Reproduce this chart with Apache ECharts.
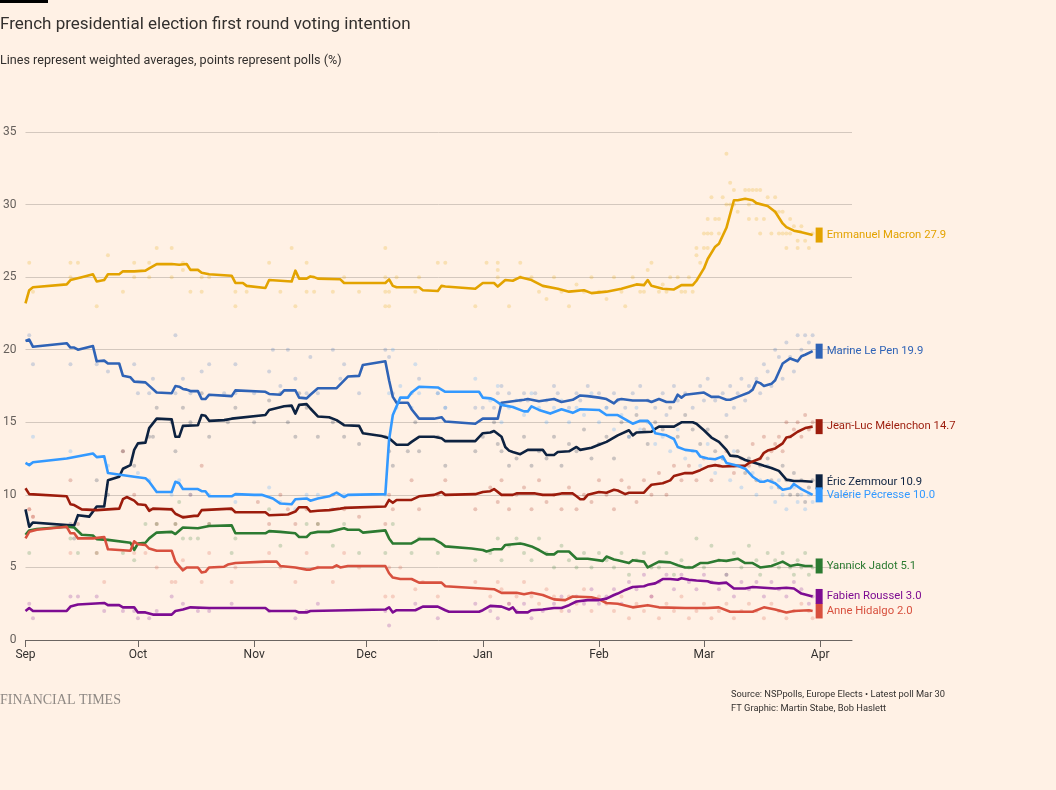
<!DOCTYPE html>
<html><head><meta charset="utf-8">
<script src="https://cdn.jsdelivr.net/npm/echarts@6/dist/echarts.min.js"></script>
<style>html,body{margin:0;padding:0;background:#fff1e5}#c{width:1056px;height:790px}</style>
</head><body><div id="c"></div><script>
// ---------- DATA ----------
const monthNames = ['Jan','Feb','Mar','Apr','May','Jun','Jul','Aug','Sep','Oct','Nov','Dec'];
const yTicks = [0, 5, 10, 15, 20, 25, 30, 35];

const candidates = ['Emmanuel Macron','Marine Le Pen','Éric Zemmour','Valérie Pécresse','Jean-Luc Mélenchon','Yannick Jadot','Anne Hidalgo','Fabien Roussel'];

const macronLine = [['2021-09-01',23.2],['2021-09-02',24.1],['2021-09-03',24.3],['2021-09-12',24.5],['2021-09-13',24.8],['2021-09-16',25.0],['2021-09-19',25.2],['2021-09-20',24.7],['2021-09-22',24.8],['2021-09-23',25.2],['2021-09-26',25.2],['2021-09-27',25.4],['2021-09-30',25.4],['2021-10-03',25.45],['2021-10-04',25.6],['2021-10-06',25.9],['2021-10-10',25.9],['2021-10-12',25.85],['2021-10-14',25.9],['2021-10-15',25.5],['2021-10-17',25.5],['2021-10-18',25.3],['2021-10-20',25.2],['2021-10-26',25.1],['2021-10-27',24.6],['2021-10-29',24.6],['2021-10-30',24.4],['2021-11-04',24.25],['2021-11-05',24.8],['2021-11-11',24.7],['2021-11-12',25.45],['2021-11-13',24.9],['2021-11-15',24.9],['2021-11-16',25.05],['2021-11-17',25.0],['2021-11-18',24.9],['2021-11-24',24.85],['2021-11-25',24.6],['2021-12-06',24.6],['2021-12-07',24.85],['2021-12-08',24.4],['2021-12-09',24.3],['2021-12-15',24.3],['2021-12-16',24.1],['2021-12-20',24.05],['2021-12-21',24.4],['2021-12-22',24.35],['2021-12-30',24.2],['2022-01-01',24.6],['2022-01-04',24.6],['2022-01-05',24.35],['2022-01-07',24.8],['2022-01-09',24.75],['2022-01-11',25.0],['2022-01-14',24.8],['2022-01-17',24.4],['2022-01-21',24.2],['2022-01-24',24.0],['2022-01-28',24.1],['2022-01-30',23.9],['2022-02-03',24.0],['2022-02-07',24.2],['2022-02-11',24.5],['2022-02-13',24.45],['2022-02-14',24.8],['2022-02-15',24.4],['2022-02-18',24.2],['2022-02-21',24.15],['2022-02-23',24.45],['2022-02-26',24.45],['2022-02-27',24.75],['2022-03-01',25.6],['2022-03-02',26.25],['2022-03-04',27.1],['2022-03-05',27.3],['2022-03-07',28.4],['2022-03-09',30.3],['2022-03-10',30.3],['2022-03-12',30.4],['2022-03-14',30.3],['2022-03-15',30.1],['2022-03-18',29.9],['2022-03-20',29.5],['2022-03-22',28.7],['2022-03-23',28.45],['2022-03-25',28.2],['2022-03-27',28.1],['2022-03-30',27.9]];

const lepenLine = [['2021-09-01',20.6],['2021-09-02',20.7],['2021-09-03',20.2],['2021-09-12',20.45],['2021-09-13',20.15],['2021-09-14',20.15],['2021-09-15',20.0],['2021-09-19',20.25],['2021-09-20',19.2],['2021-09-22',19.25],['2021-09-23',19.05],['2021-09-26',19.05],['2021-09-27',18.2],['2021-09-29',18.1],['2021-09-30',17.8],['2021-10-03',17.75],['2021-10-06',17.05],['2021-10-10',17.0],['2021-10-11',17.5],['2021-10-12',17.45],['2021-10-13',17.3],['2021-10-14',17.25],['2021-10-15',17.15],['2021-10-17',17.15],['2021-10-18',16.6],['2021-10-19',16.6],['2021-10-20',16.9],['2021-10-26',16.8],['2021-10-27',17.2],['2021-11-04',17.1],['2021-11-05',16.95],['2021-11-08',16.9],['2021-11-09',17.2],['2021-11-12',17.2],['2021-11-13',16.7],['2021-11-15',16.65],['2021-11-16',16.9],['2021-11-18',17.35],['2021-11-23',17.35],['2021-11-26',18.15],['2021-11-29',18.2],['2021-11-30',18.95],['2021-12-06',19.2],['2021-12-07',17.9],['2021-12-08',16.75],['2021-12-09',16.35],['2021-12-12',16.35],['2021-12-13',15.9],['2021-12-15',15.25],['2021-12-19',15.25],['2021-12-21',15.35],['2021-12-22',15.05],['2021-12-30',14.9],['2022-01-01',15.25],['2022-01-05',15.25],['2022-01-06',16.35],['2022-01-12',16.55],['2022-01-13',16.6],['2022-01-16',16.45],['2022-01-20',16.6],['2022-01-22',16.4],['2022-01-25',16.55],['2022-01-27',16.85],['2022-01-29',16.8],['2022-02-01',16.7],['2022-02-03',16.6],['2022-02-05',16.3],['2022-02-06',16.55],['2022-02-07',16.6],['2022-02-10',16.5],['2022-02-14',16.5],['2022-02-15',16.4],['2022-02-17',16.6],['2022-02-19',16.4],['2022-02-21',16.4],['2022-02-22',16.9],['2022-02-23',16.7],['2022-02-24',16.9],['2022-03-01',17.05],['2022-03-03',16.75],['2022-03-05',16.75],['2022-03-07',16.55],['2022-03-08',16.55],['2022-03-10',16.75],['2022-03-13',17.05],['2022-03-14',17.25],['2022-03-15',17.8],['2022-03-16',17.7],['2022-03-17',17.5],['2022-03-19',17.65],['2022-03-20',17.9],['2022-03-22',19.05],['2022-03-24',19.4],['2022-03-26',19.2],['2022-03-27',19.55],['2022-03-28',19.65],['2022-03-30',19.9]];

const zemmourLine = [['2021-09-01',9.0],['2021-09-02',7.8],['2021-09-03',8.1],['2021-09-13',7.9],['2021-09-14',7.9],['2021-09-15',8.6],['2021-09-18',8.5],['2021-09-20',9.2],['2021-09-22',9.2],['2021-09-23',11.0],['2021-09-26',11.25],['2021-09-27',11.8],['2021-09-29',12.05],['2021-09-30',13.1],['2021-10-01',13.55],['2021-10-03',13.6],['2021-10-04',14.6],['2021-10-06',15.25],['2021-10-10',15.2],['2021-10-11',14.0],['2021-10-12',14.0],['2021-10-13',14.75],['2021-10-17',14.8],['2021-10-18',15.5],['2021-10-19',15.45],['2021-10-20',15.1],['2021-10-24',15.15],['2021-10-26',15.25],['2021-11-04',15.5],['2021-11-05',15.85],['2021-11-09',16.1],['2021-11-11',16.15],['2021-11-12',15.6],['2021-11-13',16.2],['2021-11-15',16.25],['2021-11-16',15.95],['2021-11-18',15.4],['2021-11-21',15.35],['2021-11-23',15.15],['2021-11-25',14.8],['2021-11-29',14.75],['2021-11-30',14.25],['2021-12-05',14.05],['2021-12-07',13.9],['2021-12-09',13.45],['2021-12-12',13.45],['2021-12-13',13.65],['2021-12-15',14.0],['2021-12-19',14.0],['2021-12-21',13.9],['2021-12-22',13.7],['2021-12-30',13.7],['2022-01-01',14.25],['2022-01-03',14.3],['2022-01-04',14.4],['2022-01-06',14.0],['2022-01-07',13.3],['2022-01-08',13.05],['2022-01-09',12.95],['2022-01-11',12.8],['2022-01-13',13.1],['2022-01-17',13.1],['2022-01-18',12.75],['2022-01-20',12.75],['2022-01-21',12.95],['2022-01-24',13.0],['2022-01-26',13.3],['2022-01-27',13.1],['2022-01-30',13.25],['2022-02-01',13.45],['2022-02-03',13.65],['2022-02-06',14.1],['2022-02-09',14.45],['2022-02-10',14.1],['2022-02-11',14.3],['2022-02-15',14.35],['2022-02-16',14.55],['2022-02-17',14.7],['2022-02-21',14.7],['2022-02-23',15.0],['2022-02-26',15.0],['2022-02-27',14.9],['2022-03-01',14.45],['2022-03-03',13.95],['2022-03-05',13.65],['2022-03-07',13.1],['2022-03-08',12.7],['2022-03-10',12.65],['2022-03-12',12.4],['2022-03-14',12.25],['2022-03-16',12.1],['2022-03-17',12.0],['2022-03-19',11.85],['2022-03-21',11.65],['2022-03-23',11.05],['2022-03-25',10.95],['2022-03-27',10.95],['2022-03-30',10.9]];

const pecresseLine = [['2021-09-01',12.2],['2021-09-02',12.05],['2021-09-03',12.25],['2021-09-12',12.5],['2021-09-19',12.85],['2021-09-20',12.6],['2021-09-22',12.65],['2021-09-23',11.5],['2021-09-30',11.25],['2021-10-03',11.15],['2021-10-04',10.9],['2021-10-06',10.2],['2021-10-10',10.2],['2021-10-11',10.9],['2021-10-12',10.8],['2021-10-13',10.4],['2021-10-17',10.4],['2021-10-18',10.25],['2021-10-19',10.25],['2021-10-20',9.9],['2021-10-26',9.9],['2021-10-27',10.05],['2021-11-01',10.0],['2021-11-03',10.0],['2021-11-06',9.75],['2021-11-08',9.4],['2021-11-11',9.35],['2021-11-12',9.7],['2021-11-15',9.75],['2021-11-16',9.6],['2021-11-18',9.75],['2021-11-21',9.9],['2021-11-23',10.15],['2021-11-25',9.85],['2021-11-26',10.0],['2021-12-06',10.05],['2021-12-07',13.8],['2021-12-08',15.5],['2021-12-10',16.7],['2021-12-12',16.7],['2021-12-13',17.05],['2021-12-15',17.45],['2021-12-20',17.4],['2021-12-22',17.1],['2021-12-31',17.1],['2022-01-01',16.7],['2022-01-03',16.65],['2022-01-04',16.55],['2022-01-06',16.2],['2022-01-09',16.05],['2022-01-12',15.75],['2022-01-13',15.75],['2022-01-14',16.1],['2022-01-16',15.85],['2022-01-19',15.6],['2022-01-22',15.9],['2022-01-25',15.65],['2022-01-27',15.9],['2022-02-01',15.85],['2022-02-03',15.5],['2022-02-06',15.5],['2022-02-08',15.2],['2022-02-10',14.9],['2022-02-11',15.0],['2022-02-12',15.1],['2022-02-14',15.1],['2022-02-15',14.8],['2022-02-16',14.25],['2022-02-19',14.1],['2022-02-21',13.85],['2022-02-22',13.3],['2022-02-24',13.1],['2022-02-27',13.0],['2022-02-28',12.65],['2022-03-02',12.5],['2022-03-04',12.45],['2022-03-06',12.65],['2022-03-07',12.2],['2022-03-10',12.0],['2022-03-12',11.8],['2022-03-14',11.25],['2022-03-16',10.9],['2022-03-17',10.9],['2022-03-18',11.0],['2022-03-20',10.8],['2022-03-22',10.35],['2022-03-24',10.45],['2022-03-25',10.75],['2022-03-27',10.4],['2022-03-30',10.0]];

const melenchonLine = [['2021-09-01',10.45],['2021-09-02',10.05],['2021-09-12',9.9],['2021-09-13',9.35],['2021-09-14',9.3],['2021-09-16',9.0],['2021-09-20',8.95],['2021-09-26',9.05],['2021-09-27',9.7],['2021-09-28',9.85],['2021-09-30',9.6],['2021-10-01',9.35],['2021-10-03',9.3],['2021-10-04',8.9],['2021-10-05',9.05],['2021-10-10',9.0],['2021-10-11',8.7],['2021-10-13',8.45],['2021-10-16',8.55],['2021-10-17',8.55],['2021-10-18',8.95],['2021-10-26',9.05],['2021-10-27',8.8],['2021-11-04',8.8],['2021-11-05',8.6],['2021-11-10',8.65],['2021-11-12',8.85],['2021-11-13',9.15],['2021-11-15',9.15],['2021-11-16',8.85],['2021-11-18',8.9],['2021-11-21',8.95],['2021-11-24',9.05],['2021-11-25',9.1],['2021-12-06',9.2],['2021-12-07',9.65],['2021-12-08',9.45],['2021-12-09',9.65],['2021-12-13',9.65],['2021-12-15',9.9],['2021-12-19',10.0],['2021-12-21',10.2],['2021-12-22',10.0],['2021-12-30',10.05],['2022-01-01',10.2],['2022-01-03',10.25],['2022-01-04',10.4],['2022-01-06',10.0],['2022-01-09',10.0],['2022-01-10',10.1],['2022-01-15',10.1],['2022-01-17',10.0],['2022-01-20',10.0],['2022-01-22',10.1],['2022-01-25',10.1],['2022-01-26',9.9],['2022-01-27',9.7],['2022-01-28',9.7],['2022-01-29',10.0],['2022-02-01',10.2],['2022-02-03',10.15],['2022-02-05',10.35],['2022-02-06',10.3],['2022-02-08',10.05],['2022-02-09',10.15],['2022-02-13',10.15],['2022-02-14',10.45],['2022-02-15',10.7],['2022-02-18',10.8],['2022-02-20',11.0],['2022-02-21',11.3],['2022-02-24',11.5],['2022-02-26',11.5],['2022-02-28',11.7],['2022-03-02',11.95],['2022-03-04',12.05],['2022-03-06',11.95],['2022-03-10',12.0],['2022-03-12',12.0],['2022-03-13',12.2],['2022-03-16',12.5],['2022-03-17',12.9],['2022-03-18',13.05],['2022-03-20',13.2],['2022-03-22',13.55],['2022-03-23',13.95],['2022-03-24',14.0],['2022-03-26',14.35],['2022-03-28',14.6],['2022-03-30',14.7]];

const jadotLine = [['2021-09-01',7.25],['2021-09-02',7.55],['2021-09-04',7.65],['2021-09-12',7.8],['2021-09-14',7.75],['2021-09-16',7.25],['2021-09-19',7.2],['2021-09-20',6.95],['2021-09-23',6.9],['2021-09-29',6.7],['2021-09-30',6.2],['2021-10-01',6.65],['2021-10-03',6.7],['2021-10-04',7.0],['2021-10-06',7.4],['2021-10-10',7.45],['2021-10-11',7.3],['2021-10-13',7.75],['2021-10-17',7.7],['2021-10-20',7.85],['2021-10-26',7.9],['2021-10-27',7.35],['2021-11-04',7.35],['2021-11-05',7.5],['2021-11-08',7.45],['2021-11-12',7.35],['2021-11-13',7.1],['2021-11-15',7.1],['2021-11-16',7.35],['2021-11-18',7.45],['2021-11-21',7.45],['2021-11-25',7.7],['2021-11-26',7.6],['2021-11-29',7.6],['2021-11-30',7.4],['2021-12-06',7.55],['2021-12-07',7.0],['2021-12-08',6.65],['2021-12-13',6.65],['2021-12-14',6.8],['2021-12-15',6.95],['2021-12-19',6.95],['2021-12-21',6.65],['2021-12-22',6.45],['2021-12-29',6.3],['2022-01-01',6.2],['2022-01-02',6.1],['2022-01-04',6.25],['2022-01-06',6.25],['2022-01-07',6.55],['2022-01-11',6.65],['2022-01-12',6.6],['2022-01-14',6.45],['2022-01-16',6.2],['2022-01-18',5.9],['2022-01-20',5.9],['2022-01-21',6.1],['2022-01-24',6.1],['2022-01-26',5.6],['2022-01-29',5.6],['2022-02-02',5.45],['2022-02-03',5.75],['2022-02-05',5.55],['2022-02-06',5.5],['2022-02-09',5.3],['2022-02-10',5.5],['2022-02-13',5.4],['2022-02-14',5.0],['2022-02-17',5.4],['2022-02-20',5.35],['2022-02-22',5.15],['2022-02-24',5.0],['2022-02-26',5.0],['2022-02-28',5.3],['2022-03-02',5.3],['2022-03-05',5.5],['2022-03-07',5.45],['2022-03-10',5.6],['2022-03-12',5.3],['2022-03-14',5.3],['2022-03-16',5.0],['2022-03-19',5.1],['2022-03-22',5.4],['2022-03-24',5.1],['2022-03-26',5.2],['2022-03-28',5.1],['2022-03-30',5.1]];

const hidalgoLine = [['2021-09-01',7.0],['2021-09-02',7.45],['2021-09-04',7.6],['2021-09-12',7.8],['2021-09-13',7.35],['2021-09-14',7.35],['2021-09-15',7.0],['2021-09-19',7.0],['2021-09-22',7.1],['2021-09-23',6.25],['2021-09-29',6.15],['2021-09-30',6.8],['2021-10-01',6.6],['2021-10-03',6.55],['2021-10-04',6.3],['2021-10-06',6.15],['2021-10-10',6.15],['2021-10-11',5.4],['2021-10-13',4.8],['2021-10-14',5.0],['2021-10-17',5.0],['2021-10-18',4.65],['2021-10-19',4.7],['2021-10-20',5.0],['2021-10-24',5.05],['2021-10-25',5.2],['2021-10-27',5.3],['2021-11-04',5.4],['2021-11-07',5.4],['2021-11-08',5.1],['2021-11-12',5.0],['2021-11-15',4.85],['2021-11-16',4.85],['2021-11-18',5.0],['2021-11-22',5.0],['2021-11-23',5.15],['2021-11-24',5.0],['2021-11-26',5.1],['2021-12-06',5.1],['2021-12-07',4.6],['2021-12-08',4.3],['2021-12-10',4.2],['2021-12-13',4.2],['2021-12-15',3.95],['2021-12-21',3.95],['2021-12-22',3.7],['2022-01-04',3.5],['2022-01-06',3.25],['2022-01-10',3.25],['2022-01-12',3.15],['2022-01-14',3.25],['2022-01-17',3.1],['2022-01-20',2.8],['2022-01-23',2.75],['2022-01-25',3.0],['2022-01-30',2.95],['2022-02-01',2.8],['2022-02-03',2.55],['2022-02-06',2.5],['2022-02-10',2.25],['2022-02-14',2.4],['2022-02-17',2.25],['2022-02-24',2.2],['2022-03-02',2.2],['2022-03-05',2.25],['2022-03-08',1.95],['2022-03-14',1.95],['2022-03-17',2.25],['2022-03-20',2.1],['2022-03-23',1.9],['2022-03-25',2.0],['2022-03-29',2.05],['2022-03-30',2.0]];

const rousselLine = [['2021-09-01',2.0],['2021-09-02',2.2],['2021-09-03',2.0],['2021-09-12',2.0],['2021-09-13',2.3],['2021-09-15',2.45],['2021-09-22',2.55],['2021-09-23',2.4],['2021-09-26',2.4],['2021-09-27',2.25],['2021-09-30',2.25],['2021-10-01',1.9],['2021-10-03',1.9],['2021-10-05',1.75],['2021-10-10',1.75],['2021-10-11',2.0],['2021-10-13',2.1],['2021-10-15',2.25],['2021-10-20',2.2],['2021-11-04',2.2],['2021-11-05',2.0],['2021-11-12',2.0],['2021-11-13',1.9],['2021-11-15',1.9],['2021-11-16',2.0],['2021-12-06',2.1],['2021-12-07',2.25],['2021-12-08',1.9],['2021-12-09',2.05],['2021-12-14',2.05],['2021-12-16',2.3],['2021-12-20',2.3],['2021-12-22',2.05],['2021-12-23',1.95],['2021-12-31',1.95],['2022-01-01',2.05],['2022-01-03',2.35],['2022-01-06',2.3],['2022-01-08',2.1],['2022-01-09',2.25],['2022-01-10',1.9],['2022-01-13',1.9],['2022-01-14',2.05],['2022-01-17',2.1],['2022-01-20',2.2],['2022-01-22',2.2],['2022-01-24',2.4],['2022-01-26',2.65],['2022-01-29',2.75],['2022-02-01',2.75],['2022-02-03',2.85],['2022-02-05',3.1],['2022-02-06',3.2],['2022-02-08',3.45],['2022-02-10',3.65],['2022-02-13',3.7],['2022-02-14',3.8],['2022-02-16',3.9],['2022-02-18',4.2],['2022-02-20',4.2],['2022-02-22',4.15],['2022-02-23',4.25],['2022-02-25',4.15],['2022-02-27',4.1],['2022-03-02',4.05],['2022-03-03',3.95],['2022-03-05',3.9],['2022-03-07',3.95],['2022-03-09',3.55],['2022-03-12',3.55],['2022-03-14',3.65],['2022-03-17',3.6],['2022-03-20',3.55],['2022-03-23',3.6],['2022-03-25',3.55],['2022-03-27',3.2],['2022-03-30',3.0]];

// polls (points)
const macronPolls = [['2021-09-02',26],['2021-09-03',24],['2021-09-13',26],['2021-09-13',25],['2021-09-15',26],['2021-09-20',23],['2021-09-23',26.5],['2021-09-27',24],['2021-09-30',25],['2021-09-30',26],['2021-10-04',25],['2021-10-04',26],['2021-10-06',27],['2021-10-10',27],['2021-10-10',25],['2021-10-13',25.5],['2021-10-13',26],['2021-10-15',24],['2021-10-18',24],['2021-10-18',25],['2021-10-20',25],['2021-10-27',24],['2021-10-27',23],['2021-10-30',24],['2021-11-05',26],['2021-11-08',24],['2021-11-11',27],['2021-11-12',23],['2021-11-15',26],['2021-11-15',24],['2021-11-17',24],['2021-11-22',24],['2021-11-25',25],['2021-11-29',24],['2021-12-06',27],['2021-12-06',23],['2021-12-06',24],['2021-12-06',25],['2021-12-07',23],['2021-12-07',24],['2021-12-09',25],['2021-12-14',24],['2021-12-15',25],['2021-12-20',26],['2021-12-22',26],['2021-12-30',23],['2022-01-02',26],['2022-01-05',26],['2022-01-05',25],['2022-01-05',25.5],['2022-01-08',23],['2022-01-11',26],['2022-01-11',25],['2022-01-14',25],['2022-01-16',24],['2022-01-18',23.5],['2022-01-20',25],['2022-01-22',24],['2022-01-24',23],['2022-01-26',24.5],['2022-01-28',24],['2022-01-30',25],['2022-02-01',24],['2022-02-03',23.5],['2022-02-05',25],['2022-02-07',24],['2022-02-08',23],['2022-02-10',25],['2022-02-12',24],['2022-02-13',24],['2022-02-14',25.5],['2022-02-15',26],['2022-02-17',24],['2022-02-18',24.5],['2022-02-19',24],['2022-02-20',25],['2022-02-22',25],['2022-02-23',24],['2022-02-24',24],['2022-02-25',25],['2022-02-26',24],['2022-02-27',26.5],['2022-02-27',27],['2022-02-28',26],['2022-03-01',27],['2022-03-01',28],['2022-03-02',27],['2022-03-02',28],['2022-03-02',29],['2022-03-03',28],['2022-03-03',30.5],['2022-03-04',29],['2022-03-05',28],['2022-03-05',29],['2022-03-06',30.5],['2022-03-07',30],['2022-03-07',33.5],['2022-03-08',31.5],['2022-03-08',30],['2022-03-09',31],['2022-03-09',30],['2022-03-10',29.5],['2022-03-12',31],['2022-03-13',30],['2022-03-13',31],['2022-03-13',29],['2022-03-14',31],['2022-03-15',31],['2022-03-15',29],['2022-03-16',31],['2022-03-16',28],['2022-03-17',29],['2022-03-18',30.5],['2022-03-19',28],['2022-03-20',30.5],['2022-03-20',29.5],['2022-03-21',29.5],['2022-03-21',28],['2022-03-22',29.5],['2022-03-22',28],['2022-03-23',27],['2022-03-23',28],['2022-03-24',29],['2022-03-24',28],['2022-03-25',28.5],['2022-03-26',27],['2022-03-26',27.5],['2022-03-27',28.5],['2022-03-28',27.5],['2022-03-29',27],['2022-03-30',28]];

const lepenPolls = [['2021-09-02',21],['2021-09-03',19],['2021-09-13',19],['2021-09-20',19],['2021-09-23',18.5],['2021-09-30',19],['2021-10-01',17],['2021-10-05',18],['2021-10-04',17],['2021-10-11',21],['2021-10-11',17],['2021-10-13',18],['2021-10-15',17],['2021-10-18',18.5],['2021-10-20',19],['2021-10-24',17],['2021-10-27',19],['2021-10-27',17],['2021-11-01',17],['2021-11-05',18.5],['2021-11-06',20],['2021-11-08',17.5],['2021-11-10',20],['2021-11-12',18],['2021-11-15',17],['2021-11-16',19.5],['2021-11-18',17],['2021-11-22',20],['2021-11-24',18],['2021-11-25',19],['2021-11-29',17],['2021-12-06',20],['2021-12-07',19.5],['2021-12-08',17],['2021-12-13',17],['2021-12-15',18],['2021-12-20',17],['2021-12-22',16],['2021-12-30',16],['2022-01-01',16],['2022-01-04',16],['2022-01-05',17],['2022-01-06',17.5],['2022-01-08',17],['2022-01-11',16.5],['2022-01-12',17],['2022-01-13',16.5],['2022-01-15',17],['2022-01-18',16.5],['2022-01-20',17.5],['2022-01-21',17],['2022-01-24',16],['2022-01-26',17],['2022-01-27',16.5],['2022-01-29',17.5],['2022-02-01',17],['2022-02-03',16],['2022-02-05',17],['2022-02-06',16.5],['2022-02-08',16],['2022-02-10',17],['2022-02-12',17.5],['2022-02-14',16.5],['2022-02-16',16],['2022-02-18',17],['2022-02-19',15.5],['2022-02-21',17.5],['2022-02-22',16.5],['2022-02-24',17],['2022-02-26',16],['2022-02-28',17.5],['2022-03-01',16.5],['2022-03-02',18],['2022-03-04',16.5],['2022-03-06',17],['2022-03-07',15.5],['2022-03-08',17.5],['2022-03-09',16],['2022-03-10',17],['2022-03-11',18],['2022-03-12',16.5],['2022-03-13',17.5],['2022-03-15',18],['2022-03-16',17],['2022-03-17',19],['2022-03-18',18.5],['2022-03-19',17.5],['2022-03-20',20],['2022-03-21',19.5],['2022-03-22',18],['2022-03-23',20.5],['2022-03-24',19.5],['2022-03-25',18.5],['2022-03-26',21],['2022-03-27',20],['2022-03-28',21],['2022-03-29',20.5],['2022-03-30',21]];

const zemmourPolls = [['2021-09-02',8],['2021-09-13',8],['2021-09-14',7],['2021-09-20',11],['2021-09-23',10],['2021-09-27',13],['2021-09-30',12],['2021-10-04',14],['2021-10-05',14],['2021-10-06',16],['2021-10-10',15],['2021-10-11',13],['2021-10-13',16],['2021-10-15',15],['2021-10-18',17],['2021-10-20',14],['2021-10-25',15],['2021-10-27',16],['2021-11-01',15],['2021-11-05',16.5],['2021-11-08',17],['2021-11-10',15],['2021-11-12',14],['2021-11-13',17],['2021-11-15',16],['2021-11-18',14],['2021-11-22',15],['2021-11-25',14],['2021-11-29',13.5],['2021-12-06',14],['2021-12-07',13],['2021-12-08',12],['2021-12-12',13],['2021-12-14',15],['2021-12-15',13],['2021-12-20',14],['2021-12-22',12],['2021-12-30',13],['2022-01-01',14],['2022-01-04',15],['2022-01-05',13.5],['2022-01-06',13],['2022-01-08',12],['2022-01-10',12.5],['2022-01-12',14],['2022-01-14',12],['2022-01-16',13],['2022-01-18',12.5],['2022-01-20',14],['2022-01-22',12],['2022-01-24',13.5],['2022-01-26',13],['2022-01-28',14.5],['2022-01-30',12.5],['2022-02-01',13.5],['2022-02-03',14],['2022-02-05',12.5],['2022-02-07',15],['2022-02-09',14],['2022-02-11',15.5],['2022-02-13',14.5],['2022-02-14',13.5],['2022-02-16',15],['2022-02-18',14.5],['2022-02-20',16],['2022-02-22',14],['2022-02-24',15.5],['2022-02-26',14.5],['2022-02-28',13.5],['2022-03-02',14.5],['2022-03-04',13],['2022-03-06',12.5],['2022-03-07',14],['2022-03-09',12],['2022-03-10',13],['2022-03-12',11.5],['2022-03-13',12.5],['2022-03-15',11],['2022-03-16',12],['2022-03-18',12.5],['2022-03-19',11],['2022-03-21',10.5],['2022-03-22',12],['2022-03-23',11],['2022-03-24',10],['2022-03-25',11.5],['2022-03-26',10],['2022-03-27',11],['2022-03-28',9.5],['2022-03-29',10.5],['2022-03-30',11]];

const pecressePolls = [['2021-09-03',14],['2021-09-13',13],['2021-09-23',12],['2021-10-01',11.5],['2021-10-04',11],['2021-10-10',10],['2021-10-12',11],['2021-10-15',10],['2021-10-20',10],['2021-10-27',9.5],['2021-11-05',10.5],['2021-11-08',9.5],['2021-11-12',9],['2021-11-15',10],['2021-11-18',10],['2021-11-22',9],['2021-11-25',10],['2021-12-06',10],['2021-12-07',17],['2021-12-08',20],['2021-12-09',16],['2021-12-10',17.5],['2021-12-13',16],['2021-12-14',19],['2021-12-15',17],['2021-12-20',17],['2021-12-22',16],['2021-12-30',18],['2022-01-03',16.5],['2022-01-05',17.5],['2022-01-06',15],['2022-01-08',16],['2022-01-10',16.5],['2022-01-12',15.5],['2022-01-14',17],['2022-01-16',16],['2022-01-18',15],['2022-01-20',16],['2022-01-22',16.5],['2022-01-24',15],['2022-01-26',16],['2022-01-28',15.5],['2022-01-30',17],['2022-02-01',15],['2022-02-03',16],['2022-02-05',14.5],['2022-02-07',15.5],['2022-02-09',14],['2022-02-11',16],['2022-02-12',14.5],['2022-02-14',15],['2022-02-16',13.5],['2022-02-18',14],['2022-02-20',13],['2022-02-22',14.5],['2022-02-24',12.5],['2022-02-26',13],['2022-02-28',12],['2022-03-02',13.5],['2022-03-04',11.5],['2022-03-06',12.5],['2022-03-08',11],['2022-03-09',13],['2022-03-11',10.5],['2022-03-12',12],['2022-03-14',11.5],['2022-03-15',10],['2022-03-16',11],['2022-03-18',12],['2022-03-19',10.5],['2022-03-20',9.5],['2022-03-21',11],['2022-03-22',10],['2022-03-23',9],['2022-03-24',11],['2022-03-25',10.5],['2022-03-26',9.5],['2022-03-27',10],['2022-03-28',9],['2022-03-29',10],['2022-03-30',9.5]];

const melenchonPolls = [['2021-09-02',9],['2021-09-03',8.5],['2021-09-13',11],['2021-09-15',8],['2021-09-27',13],['2021-09-30',10],['2021-10-04',9],['2021-10-06',8],['2021-10-10',9],['2021-10-11',8],['2021-10-13',8.5],['2021-10-15',10],['2021-10-18',12],['2021-10-20',8],['2021-10-26',9],['2021-11-02',9.5],['2021-11-05',8],['2021-11-08',10],['2021-11-10',9],['2021-11-12',8],['2021-11-15',9],['2021-11-18',8],['2021-11-22',10],['2021-11-25',9],['2021-11-29',8.5],['2021-12-06',8],['2021-12-07',10],['2021-12-08',9],['2021-12-13',11],['2021-12-15',9],['2021-12-20',10],['2021-12-22',11],['2021-12-30',9],['2022-01-03',10.5],['2022-01-05',9.5],['2022-01-06',11],['2022-01-08',9],['2022-01-10',10],['2022-01-12',10.5],['2022-01-14',9],['2022-01-16',11],['2022-01-18',9.5],['2022-01-20',10],['2022-01-22',9],['2022-01-24',10.5],['2022-01-26',9],['2022-01-28',10],['2022-01-30',9.5],['2022-02-01',11],['2022-02-03',10],['2022-02-05',9],['2022-02-07',11],['2022-02-09',10.5],['2022-02-11',9.5],['2022-02-13',11],['2022-02-15',10],['2022-02-17',11.5],['2022-02-19',10],['2022-02-21',12],['2022-02-23',11],['2022-02-25',12],['2022-02-27',11],['2022-03-01',12.5],['2022-03-03',11],['2022-03-05',12],['2022-03-07',13],['2022-03-09',11.5],['2022-03-11',12.5],['2022-03-13',12],['2022-03-14',13.5],['2022-03-16',12.5],['2022-03-17',14],['2022-03-19',13],['2022-03-20',13.5],['2022-03-21',14],['2022-03-22',13],['2022-03-23',15],['2022-03-24',14],['2022-03-25',14.5],['2022-03-26',15],['2022-03-27',14],['2022-03-28',15.5],['2022-03-29',14.5],['2022-03-30',15]];

const jadotPolls = [['2021-09-02',6],['2021-09-13',7],['2021-09-15',6],['2021-09-20',6],['2021-09-27',6],['2021-09-30',5.5],['2021-10-03',8],['2021-10-06',8],['2021-10-11',8],['2021-10-12',9.5],['2021-10-13',7],['2021-10-15',7],['2021-10-17',7],['2021-10-20',8],['2021-10-26',6],['2021-10-27',7],['2021-11-05',9],['2021-11-08',6.5],['2021-11-15',8],['2021-11-18',8],['2021-11-22',6.5],['2021-11-25',8],['2021-11-29',6],['2021-12-06',6],['2021-12-08',8],['2021-12-13',6],['2021-12-15',7],['2021-12-20',6],['2021-12-30',5.5],['2022-01-03',6],['2022-01-05',7],['2022-01-06',5.5],['2022-01-08',6.5],['2022-01-10',7],['2022-01-12',6],['2022-01-14',5.5],['2022-01-16',7],['2022-01-18',6],['2022-01-20',5],['2022-01-22',6.5],['2022-01-24',5.5],['2022-01-26',5],['2022-01-28',6],['2022-01-30',5],['2022-02-01',6],['2022-02-03',5.5],['2022-02-05',5],['2022-02-07',6],['2022-02-09',4.5],['2022-02-11',5.5],['2022-02-13',6],['2022-02-15',5],['2022-02-17',5],['2022-02-19',6],['2022-02-21',4.5],['2022-02-23',5.5],['2022-02-25',5],['2022-02-27',7],['2022-03-01',5],['2022-03-03',6.5],['2022-03-05',5.5],['2022-03-07',4.5],['2022-03-09',6],['2022-03-11',5],['2022-03-13',6.5],['2022-03-15',5.5],['2022-03-16',4.5],['2022-03-18',6],['2022-03-20',5.5],['2022-03-21',5],['2022-03-22',6],['2022-03-24',5],['2022-03-25',4.5],['2022-03-26',5.5],['2022-03-27',5],['2022-03-28',6],['2022-03-29',4.5],['2022-03-30',5]];

const hidalgoPolls = [['2021-09-02',9],['2021-09-03',8.5],['2021-09-13',6],['2021-09-14',8],['2021-09-20',6],['2021-09-22',4],['2021-09-30',6],['2021-10-03',6],['2021-10-06',5],['2021-10-10',4],['2021-10-11',4],['2021-10-13',5.5],['2021-10-18',4],['2021-10-20',6],['2021-10-26',4],['2021-10-27',5],['2021-11-05',6],['2021-11-08',5],['2021-11-12',4],['2021-11-15',6],['2021-11-18',5],['2021-11-22',4],['2021-11-25',6],['2021-11-29',5],['2021-12-06',3],['2021-12-07',5],['2021-12-08',3],['2021-12-10',5],['2021-12-14',3.5],['2021-12-16',4],['2021-12-20',3],['2021-12-30',4],['2022-01-03',3],['2022-01-05',4],['2022-01-06',3.5],['2022-01-08',2.5],['2022-01-10',3],['2022-01-12',4],['2022-01-14',3],['2022-01-16',2.5],['2022-01-18',3.5],['2022-01-20',3],['2022-01-22',2],['2022-01-24',3],['2022-01-26',2.5],['2022-01-28',3.5],['2022-01-30',2],['2022-02-01',3],['2022-02-03',2.5],['2022-02-05',2],['2022-02-07',3],['2022-02-09',1.5],['2022-02-11',2.5],['2022-02-13',2],['2022-02-15',3],['2022-02-17',1.5],['2022-02-19',2.5],['2022-02-21',2],['2022-02-23',3],['2022-02-25',1.5],['2022-02-27',2],['2022-03-01',2.5],['2022-03-03',1.5],['2022-03-05',2],['2022-03-07',2.5],['2022-03-09',1.5],['2022-03-11',2],['2022-03-13',2.5],['2022-03-15',2],['2022-03-17',1.5],['2022-03-19',2.5],['2022-03-21',2],['2022-03-23',1.5],['2022-03-25',2],['2022-03-27',2.5],['2022-03-29',2],['2022-03-30',1.5]];

const rousselPolls = [['2021-09-02',2.5],['2021-09-03',1.5],['2021-09-13',3],['2021-09-15',3],['2021-09-20',3],['2021-09-22',2],['2021-09-27',2],['2021-09-30',2],['2021-10-01',1.5],['2021-10-04',1.5],['2021-10-06',2],['2021-10-10',3],['2021-10-13',2.5],['2021-10-17',2],['2021-10-20',2],['2021-10-26',2.5],['2021-11-05',2],['2021-11-12',1.5],['2021-11-15',2],['2021-11-18',2.5],['2021-12-06',2],['2021-12-07',1],['2021-12-14',2.5],['2021-12-20',1.5],['2021-12-30',2.5],['2022-01-03',2],['2022-01-05',1.5],['2022-01-08',2.5],['2022-01-10',2],['2022-01-12',2.5],['2022-01-14',1.5],['2022-01-17',2],['2022-01-20',2.5],['2022-01-22',3],['2022-01-24',2],['2022-01-26',3],['2022-01-28',2.5],['2022-01-30',3.5],['2022-02-01',2.5],['2022-02-03',3],['2022-02-05',3.5],['2022-02-07',2.5],['2022-02-09',4],['2022-02-11',3.5],['2022-02-13',4.5],['2022-02-15',3],['2022-02-17',4],['2022-02-19',4.5],['2022-02-21',3.5],['2022-02-23',4.5],['2022-02-25',4],['2022-02-27',3.5],['2022-03-01',4.5],['2022-03-03',4],['2022-03-05',3.5],['2022-03-07',4.5],['2022-03-09',3],['2022-03-11',4],['2022-03-13',3.5],['2022-03-15',4],['2022-03-17',3],['2022-03-19',4],['2022-03-21',3.5],['2022-03-23',3],['2022-03-25',4],['2022-03-27',3.5],['2022-03-29',2.5],['2022-03-30',3]];

// ---------- STYLE ----------
const colors = ['#e3a300','#2f63b6','#0d2240','#3399ff','#9c1c0c','#2c7a31','#d8503e','#7d0c92'];
const lines = [macronLine, lepenLine, zemmourLine, pecresseLine, melenchonLine, jadotLine, hidalgoLine, rousselLine];
const polls = [macronPolls, lepenPolls, zemmourPolls, pecressePolls, melenchonPolls, jadotPolls, hidalgoPolls, rousselPolls];
const FONT = 'Roboto, "Noto Sans", sans-serif';

const series = [];
candidates.forEach((name, i) => {
  series.push({
    type: 'scatter', name: name + ' polls', data: polls[i], symbolSize: 4, silent: true, z: 1,
    itemStyle: { color: colors[i], opacity: 0.22 }
  });
});
candidates.forEach((name, i) => {
  series.push({
    type: 'line', name: name, data: lines[i], showSymbol: false, symbol: 'none', z: 3 + (i === 3 ? 1 : 0),
    lineStyle: { color: colors[i], width: 2.6, join: 'round' }, itemStyle: { color: colors[i] },
    endLabel: {
      show: true, distance: 3,
      formatter: p => '{m|}{t|' + name + ' ' + p.value[1].toFixed(1) + '}',
      rich: {
        m: { width: 7, height: 15, backgroundColor: colors[i] },
        t: { color: colors[i], fontSize: 11.3, fontFamily: FONT, padding: [0, 0, 0, 4] }
      }
    }
  });
});

const chart = echarts.init(document.getElementById('c'));
chart.setOption({
  backgroundColor: '#fff1e5',
  animation: false,
  title: [
    { text: 'French presidential election first round voting intention', left: 0, top: 16, padding: 0,
      textStyle: { fontFamily: FONT, fontSize: 17, fontWeight: 'normal', color: '#33302e' } },
    { text: 'Lines represent weighted averages, points represent polls (%)', left: 0, top: 54, padding: 0,
      textStyle: { fontFamily: FONT, fontSize: 12.6, fontWeight: 'normal', color: '#33302e' } }
  ],
  grid: { left: 22, right: 204, top: 132, bottom: 150, containLabel: false },
  xAxis: {
    type: 'time', min: '2021-09-01', max: '2022-04-09 12:00',
    minInterval: 28 * 86400000, maxInterval: 31 * 86400000,
    axisLine: { lineStyle: { color: '#6b6561', width: 1 } },
    axisTick: { show: true, length: 7, lineStyle: { color: '#6b6561' } },
    axisLabel: { formatter: v => monthNames[new Date(v).getMonth()], color: '#33302e', fontSize: 12, fontFamily: FONT, margin: 9 },
    splitLine: { show: false }
  },
  yAxis: {
    type: 'value', min: yTicks[0], max: yTicks[yTicks.length - 1], interval: 5,
    axisLine: { show: false }, axisTick: { show: false },
    axisLabel: { color: '#66605c', fontSize: 12, fontFamily: FONT, margin: 9 },
    splitLine: { lineStyle: { color: '#d4c8be' } }
  },
  series: series,
  graphic: [
    { type: 'rect', left: 0, top: 0, shape: { width: 48, height: 3 }, style: { fill: '#000' } },
    { type: 'text', left: 0, top: 693, style: { text: 'FINANCIAL TIMES', font: '14px "Liberation Serif", serif', fill: '#8f8984' } },
    { type: 'text', left: 731, top: 690, style: { text: 'Source: NSPpolls, Europe Elects • Latest poll Mar 30', font: '9.3px ' + FONT, fill: '#33302e' } },
    { type: 'text', left: 731, top: 704, style: { text: 'FT Graphic: Martin Stabe, Bob Haslett', font: '9.3px ' + FONT, fill: '#33302e' } }
  ]
});
</script></body></html>
